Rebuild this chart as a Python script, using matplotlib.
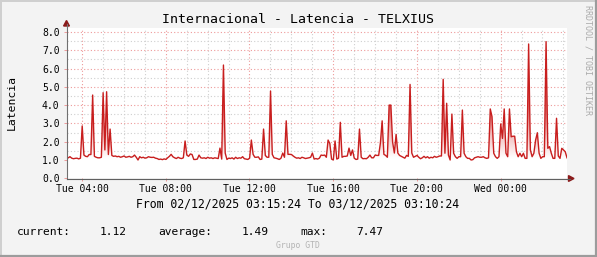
import numpy as np
import pandas as pd
import matplotlib
matplotlib.use("Agg")
import matplotlib.pyplot as plt
import matplotlib.dates as mdates
from matplotlib.colors import LinearSegmentedColormap
from matplotlib.patches import Polygon
from matplotlib.lines import Line2D
from matplotlib.ticker import MultipleLocator, FormatStrFormatter

# 5 minute samples starting at 02/12/2025 03:15:24
START = "2025-12-02 03:15:24"
STEP = "5min"

# one row per hour (12 samples)
latencia = [
    1.08, 1.12, 1.18, 1.10, 1.07, 1.09, 1.10, 1.06, 1.10, 2.86, 1.27, 1.20,
    1.18, 1.30, 1.30, 4.55, 1.20, 1.15, 1.12, 1.12, 1.15, 4.68, 1.55, 4.73,
    1.30, 2.69, 1.25, 1.20, 1.22, 1.18, 1.20, 1.15, 1.18, 1.22, 1.15, 1.17,
    1.20, 1.15, 1.18, 1.27, 1.15, 1.00, 1.18, 1.12, 1.15, 1.10, 1.12, 1.18,
    1.15, 1.14, 1.15, 1.10, 1.08, 1.03, 1.05, 1.02, 1.06, 1.03, 1.12, 1.20,
    1.31, 1.18, 1.12, 1.08, 1.15, 1.10, 1.08, 1.12, 2.04, 1.27, 1.20, 1.33,
    1.30, 1.03, 1.03, 1.05, 1.27, 1.12, 1.10, 1.12, 1.08, 1.15, 1.10, 1.12,
    1.08, 1.12, 1.10, 1.08, 1.65, 1.05, 6.19, 1.38, 1.03, 1.10, 1.08, 1.12,
    1.05, 1.15, 1.08, 1.12, 1.10, 1.18, 1.07, 1.05, 1.03, 1.10, 2.09, 1.31,
    1.15, 1.15, 1.17, 1.03, 1.05, 2.69, 1.25, 1.15, 1.15, 4.77, 1.31, 1.12,
    1.10, 1.07, 1.03, 1.10, 1.38, 1.15, 3.14, 1.31, 1.31, 1.30, 1.22, 1.15,
    1.10, 1.12, 1.08, 1.15, 1.12, 1.08, 1.10, 1.12, 1.15, 1.38, 1.05, 1.08,
    1.05, 1.10, 1.27, 1.25, 1.27, 1.15, 2.09, 1.90, 1.05, 1.00, 2.04, 1.05,
    1.10, 3.06, 1.15, 1.20, 1.20, 1.22, 1.65, 1.25, 1.55, 1.10, 1.03, 1.05,
    2.69, 1.15, 1.07, 1.08, 1.07, 1.15, 1.27, 1.12, 1.12, 1.27, 1.25, 1.25,
    1.93, 3.14, 1.31, 1.25, 1.15, 4.00, 4.00, 1.98, 1.38, 2.40, 1.38, 1.25,
    1.20, 1.15, 1.10, 1.25, 1.20, 5.13, 1.38, 1.15, 1.20, 1.25, 1.15, 1.07,
    1.12, 1.20, 1.12, 1.18, 1.10, 1.15, 1.12, 1.20, 1.15, 1.18, 1.22, 1.22,
    5.41, 1.37, 4.10, 1.27, 1.00, 3.51, 1.37, 1.18, 1.09, 1.18, 1.18, 3.73,
    1.37, 1.18, 1.09, 1.09, 1.00, 1.02, 1.12, 1.15, 1.18, 1.15, 1.15, 1.18,
    1.12, 1.09, 1.12, 3.79, 3.37, 1.37, 1.18, 1.09, 1.18, 2.97, 2.18, 3.79,
    1.37, 1.18, 3.79, 2.27, 2.30, 2.30, 1.45, 1.18, 1.37, 1.18, 1.37, 1.09,
    1.09, 7.34, 1.55, 1.18, 1.37, 2.09, 2.49, 1.37, 1.09, 1.18, 1.18, 7.47,
    1.64, 1.73, 1.37, 1.09, 1.09, 3.28, 1.22, 1.09, 1.64, 1.55, 1.45, 1.12,
]

TITLE = "Internacional - Latencia - TELXIUS"
Y_LABEL = "Latencia"
PERIOD = "From 02/12/2025 03:15:24 To 03/12/2025 03:10:24"
STAT_LABELS = ["current:", "average:", "max:"]
STAT_VALUES = ["1.12", "1.49", "7.47"]
FOOTER = "Grupo GTD"
WATERMARK = "RRDTOOL / TOBI OETIKER"

W, H = 597, 257
FONT = "DejaVu Sans Mono"
LINE_RED = "#C81E1E"
ARROW_RED = "#8B1A1A"
Y_TOP = 8.23


def fpix(x, y):
    # pixel position -> figure fraction
    return x / W, 1 - y / H


times = pd.date_range(START, periods=len(latencia), freq=STEP)
x = mdates.date2num(times.to_pydatetime())
y = np.array(latencia)

fig = plt.figure(figsize=(W / 100, H / 100), dpi=100, facecolor="#F3F3F3")
ax = fig.add_axes([66.5 / W, 1 - 178.3 / H, (567 - 66.5) / W, (178.3 - 27.7) / H])
ax.set_facecolor("white")

# gradient area under the line
fade = LinearSegmentedColormap.from_list(
    "fade", [(0, "#FFFFFF"), (0.13, "#FFFFFF"), (0.45, "#E47A7A"), (1, "#D02424")])
grad = np.linspace(0, 1, 256).reshape(-1, 1)
im = ax.imshow(grad, cmap=fade, aspect="auto", origin="lower",
               extent=[x[0], x[-1], 0, Y_TOP], zorder=1)
verts = np.column_stack([np.r_[x[0], x, x[-1]], np.r_[0, y, 0]])
clip = Polygon(verts, closed=True, facecolor="none", edgecolor="none",
               transform=ax.transData)
ax.add_patch(clip)
im.set_clip_path(clip)

ax.plot(x, y, color=LINE_RED, linewidth=1.0, zorder=3)

ax.set_xlim(x[0], x[-1])
ax.set_ylim(0, Y_TOP)

ax.xaxis_date()
ax.xaxis.set_major_locator(mdates.HourLocator(byhour=range(0, 24, 4)))
ax.xaxis.set_minor_locator(mdates.HourLocator())
ax.xaxis.set_major_formatter(mdates.DateFormatter("%a %H:%M"))
ax.yaxis.set_major_locator(MultipleLocator(1))
ax.yaxis.set_minor_locator(MultipleLocator(0.5))
ax.yaxis.set_major_formatter(FormatStrFormatter("%.1f"))

dots = (0, (1, 2))
ax.grid(which="major", color="#EE9A9A", linestyle=dots, linewidth=0.8, zorder=0)
ax.grid(which="minor", color="#CFCFCF", linestyle=dots, linewidth=0.8, zorder=0)
ax.set_axisbelow(True)

ax.tick_params(which="major", length=2, width=0.7, color="#EE9A9A",
               labelsize=7, pad=3)
ax.tick_params(axis="x", which="major", pad=2.2)
ax.tick_params(which="minor", length=0)
for lab in ax.get_xticklabels() + ax.get_yticklabels():
    lab.set_fontfamily(FONT)

for s in ax.spines.values():
    s.set_visible(False)

# axis lines with arrow heads
fig.add_artist(Line2D(*zip(fpix(66.5, 178.5), fpix(66.5, 24)),
                      color="#707070", linewidth=0.8))
fig.add_artist(Line2D(*zip(fpix(66.5, 178.5), fpix(570, 178.5)),
                      color="#606060", linewidth=0.8))
fig.add_artist(Polygon([fpix(66.5, 20.5), fpix(63.6, 26), fpix(69.4, 26)],
                       closed=True, color=ARROW_RED))
fig.add_artist(Polygon([fpix(574, 178.5), fpix(568.5, 175.6), fpix(568.5, 181.4)],
                       closed=True, color=ARROW_RED))

# frame
fig.add_artist(Line2D([0, 1], [1 - 0.5 / H] * 2, color="#CFCFCF", linewidth=1.4))
fig.add_artist(Line2D([0.5 / W] * 2, [0, 1], color="#CFCFCF", linewidth=1.4))
fig.add_artist(Line2D([0, 1], [1.0 / H] * 2, color="#9C9C9C", linewidth=1.6))
fig.add_artist(Line2D([1 - 1.0 / W] * 2, [0, 1], color="#9C9C9C", linewidth=1.6))

fig.text(*fpix(298, 19.5), TITLE, family=FONT, fontsize=9.5,
         ha="center", va="center")
fig.text(*fpix(11.5, 102.5), Y_LABEL, family=FONT, fontsize=8.2,
         rotation=90, ha="center", va="center")
fig.text(*fpix(298, 204), PERIOD, family=FONT, fontsize=8.3,
         ha="center", va="center")

for lx, vx, lab, val in zip([17, 158, 300], [100, 242, 356],
                            STAT_LABELS, STAT_VALUES):
    fig.text(*fpix(lx, 232.3), lab, family=FONT, fontsize=8.1,
             ha="left", va="center")
    fig.text(*fpix(vx, 232.3), val, family=FONT, fontsize=8.1,
             ha="left", va="center")

fig.text(*fpix(298, 246), FOOTER, family=FONT, fontsize=5.9,
         color="#B4B4B4", ha="center", va="center")
fig.text(*fpix(588, 5), WATERMARK, family=FONT, fontsize=6,
         color="#ABABAB", rotation=270, ha="center", va="top")

fig.savefig("out.png", dpi=100, facecolor=fig.get_facecolor())
